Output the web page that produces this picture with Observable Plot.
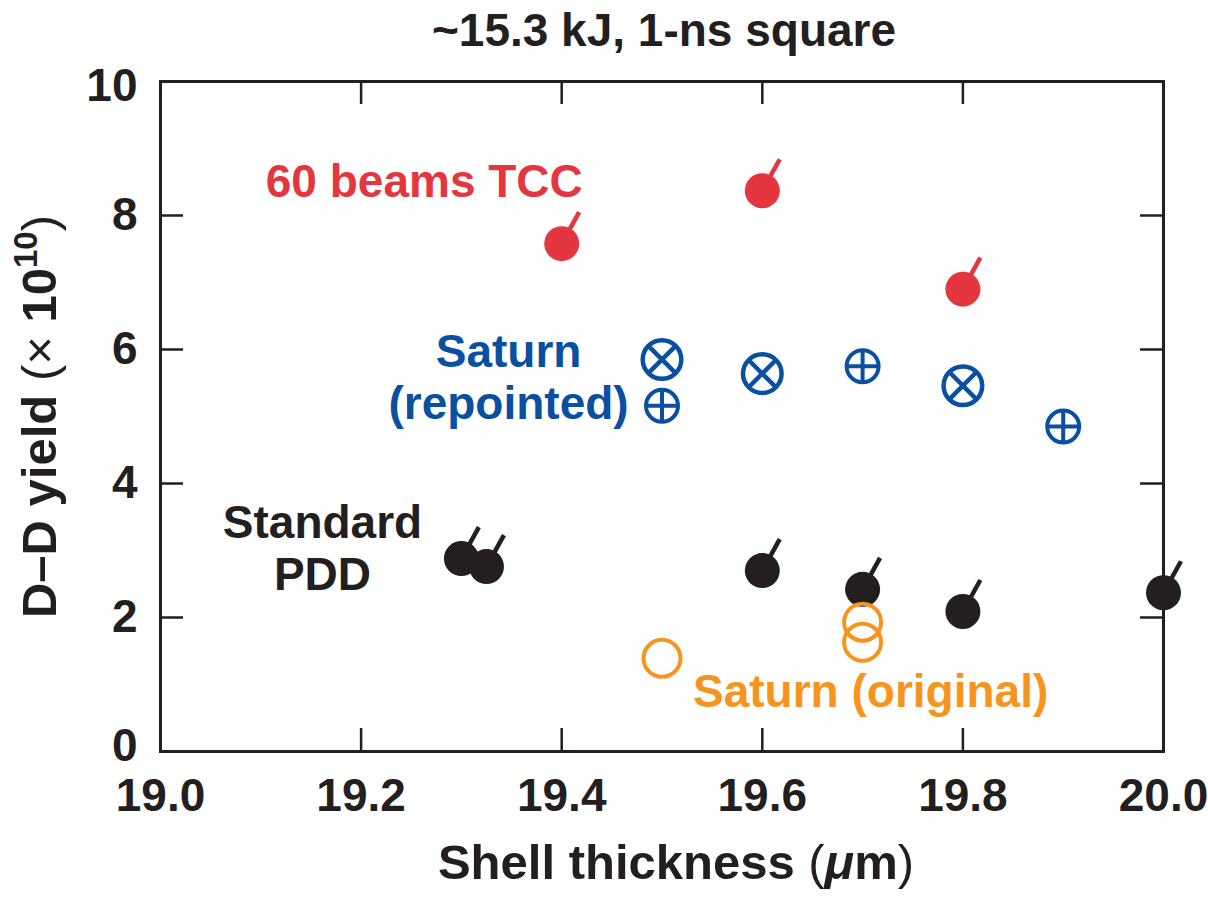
<!DOCTYPE html>
<html>
<head>
<meta charset="utf-8">
<script src="https://cdn.jsdelivr.net/npm/d3@7"></script>
<script src="https://cdn.jsdelivr.net/npm/@observablehq/plot@0.6"></script>
<style>
  html, body { margin: 0; padding: 0; background: #fff; }
  svg { font-family: "Liberation Sans", Arial, Helvetica, sans-serif; }
</style>
</head>
<body>
<div id="chart"></div>
<script>
// ---- data ----
const xTicks = [19.0, 19.2, 19.4, 19.6, 19.8, 20.0];
const yTicks = [0, 2, 4, 6, 8, 10];

const tccThick = [19.4, 19.6, 19.8];
const tccYield = [7.58, 8.37, 6.90];

const satRepCrossThick = [19.5, 19.6, 19.8];
const satRepCrossYield = [5.85, 5.64, 5.46];

const satRepPlusThick = [19.5, 19.7, 19.9];
const satRepPlusYield = [5.16, 5.75, 4.85];

const pddThick = [19.3, 19.325, 19.6, 19.7, 19.8, 20.0];
const pddYield = [2.88, 2.76, 2.70, 2.42, 2.09, 2.37];

const satOrigThick = [19.5, 19.7, 19.7];
const satOrigYield = [1.39, 1.93, 1.63];

const titleText = "~15.3 kJ, 1-ns square";
const xLabelText = "Shell thickness (\u03bcm)";
const yLabelText = "D\u2013D yield (\u00d7 1010)";

const labelTexts = ["60 beams TCC", "Saturn\n(repointed)", "Standard\nPDD", "Saturn (original)"];
const labelX = [19.263, 19.347, 19.1615, 19.708];
const labelY = [8.52, 5.60, 3.045, 0.91];
const labelColors = ["#e4363e", "#0a50a1", "#231f20", "#f7941d"];

// ---- styling / layout ----
const RED = "#e4363e", BLUE = "#0a50a1", BLACK = "#231f20", ORANGE = "#f7941d";
const W = 1208, H = 908;
const mL = 160, mR = 45, mT = 81, mB = 157;
const FW = W - mL - mR, FH = H - mT - mB;
const TICK = 23;
const FS = 46;
const LFS = 49;

const zip = (xs, ys) => xs.map((x, i) => ({x, y: ys[i]}));

// custom symbols
const tailSym = {draw(ctx, size) {
  const l = Math.sqrt(size / Math.PI), a = 29 * Math.PI / 180;
  ctx.moveTo(0, 0); ctx.lineTo(l * Math.sin(a), -l * Math.cos(a));
}};
const crossCircle = {draw(ctx, size) {
  const r = Math.sqrt(size / Math.PI), d = r * Math.SQRT1_2;
  ctx.moveTo(r, 0); ctx.arc(0, 0, r, 0, 2 * Math.PI);
  ctx.moveTo(-d, -d); ctx.lineTo(d, d);
  ctx.moveTo(d, -d); ctx.lineTo(-d, d);
}};
const plusCircle = {draw(ctx, size) {
  const r = Math.sqrt(size / Math.PI);
  ctx.moveTo(r, 0); ctx.arc(0, 0, r, 0, 2 * Math.PI);
  ctx.moveTo(-r, 0); ctx.lineTo(r, 0);
  ctx.moveTo(0, -r); ctx.lineTo(0, r);
}};

const tcc = zip(tccThick, tccYield);
const pdd = zip(pddThick, pddYield);
const satX = zip(satRepCrossThick, satRepCrossYield);
const satP = zip(satRepPlusThick, satRepPlusYield);
const satO = zip(satOrigThick, satOrigYield);

const labelMarks = labelTexts.map((t, i) => Plot.text([t], {
  x: () => labelX[i], y: () => labelY[i], text: d => d,
  fill: labelColors[i], fontSize: FS, fontWeight: "bold",
  textAnchor: "middle", lineAnchor: "middle", lineHeight: 1.12
}));

const yAxisOpts = {tickSize: 0, tickPadding: 23, fontSize: FS, fontWeight: "bold", label: null};
const yMin = yTicks[0], yMax = yTicks[yTicks.length - 1];

const svg = Plot.plot({
  width: W, height: H,
  marginLeft: mL, marginRight: mR, marginTop: mT, marginBottom: mB,
  x: {domain: [19, 20], label: null},
  y: {domain: [0, 10], label: null},
  style: {fontFamily: "\"Liberation Sans\", Arial, Helvetica, sans-serif", color: BLACK, background: "#fff"},
  marks: [
    // inward ticks on all four sides
    Plot.tickY(yTicks, {y: d => d, insetRight: FW - TICK, stroke: BLACK, strokeWidth: 2.5}),
    Plot.tickY(yTicks, {y: d => d, insetLeft: FW - TICK, stroke: BLACK, strokeWidth: 2.5}),
    Plot.tickX(xTicks, {x: d => d, insetTop: FH - TICK, stroke: BLACK, strokeWidth: 2.5}),
    Plot.tickX(xTicks, {x: d => d, insetBottom: FH - TICK, stroke: BLACK, strokeWidth: 2.5}),
    Plot.frame({stroke: BLACK, strokeWidth: 3}),
    Plot.axisY({...yAxisOpts, ticks: yTicks.filter(v => v !== yMin && v !== yMax)}),
    Plot.axisY({...yAxisOpts, ticks: [yMin], dy: -5}),
    Plot.axisY({...yAxisOpts, ticks: [yMax], dy: 5}),
    Plot.axisX({ticks: xTicks, tickSize: 0, tickPadding: 27, fontSize: FS, fontWeight: "bold", label: null, tickFormat: d => d.toFixed(1)}),
    // data
    Plot.dot(tcc, {x: "x", y: "y", symbol: tailSym, r: 36, fill: "none", stroke: RED, strokeWidth: 4.5}),
    Plot.dot(tcc, {x: "x", y: "y", r: 17.5, fill: RED, stroke: "none"}),
    Plot.dot(pdd, {x: "x", y: "y", symbol: tailSym, r: 36, fill: "none", stroke: BLACK, strokeWidth: 4.5}),
    Plot.dot(pdd, {x: "x", y: "y", r: 17.5, fill: BLACK, stroke: "none"}),
    Plot.dot(satX, {x: "x", y: "y", symbol: crossCircle, r: 19.3, fill: "none", stroke: BLUE, strokeWidth: 4.5}),
    Plot.dot(satP, {x: "x", y: "y", symbol: plusCircle, r: 16, fill: "none", stroke: BLUE, strokeWidth: 4}),
    Plot.dot(satO, {x: "x", y: "y", r: 18.5, fill: "none", stroke: ORANGE, strokeWidth: 4}),
    ...labelMarks,
    // title and axis labels
    Plot.text([titleText], {frameAnchor: "top", dy: -36, dx: 2, lineAnchor: "bottom", fontSize: FS, fontWeight: "bold", fill: BLACK}),
    Plot.text([xLabelText], {frameAnchor: "bottom", dy: 127, dx: 14, lineAnchor: "bottom", fontSize: LFS, fontWeight: "bold", fill: BLACK}),
    Plot.text([yLabelText], {frameAnchor: "left", dx: -105, rotate: -90, lineAnchor: "bottom", textAnchor: "middle", fontSize: LFS, fontWeight: "bold", fill: BLACK})
  ]
});

document.getElementById("chart").appendChild(svg);

// rich text for axis labels
function richify(content, parts) {
  d3.select(svg).selectAll("text").filter(function() { return this.textContent === content; })
    .each(function() {
      const t = d3.select(this);
      t.text(null);
      parts.forEach(p => {
        const s = t.append("tspan").text(p.t);
        if (p.w) s.attr("font-weight", p.w);
        if (p.i) s.attr("font-style", "italic");
        if (p.fs) s.attr("font-size", p.fs);
        if (p.dy) s.attr("dy", p.dy);
      });
    });
}
richify(yLabelText, [
  {t: "D\u2013D yield "},
  {t: "(\u00d7 ", w: "normal"},
  {t: "10"},
  {t: "10", fs: 33, dy: -19, w: "bold"},
  {t: ")", w: "normal", dy: 19}
]);
richify(xLabelText, [
  {t: "Shell thickness "},
  {t: "(", w: "normal"},
  {t: "\u03bc", i: true},
  {t: "m"},
  {t: ")", w: "normal"}
]);
</script>
</body>
</html>
